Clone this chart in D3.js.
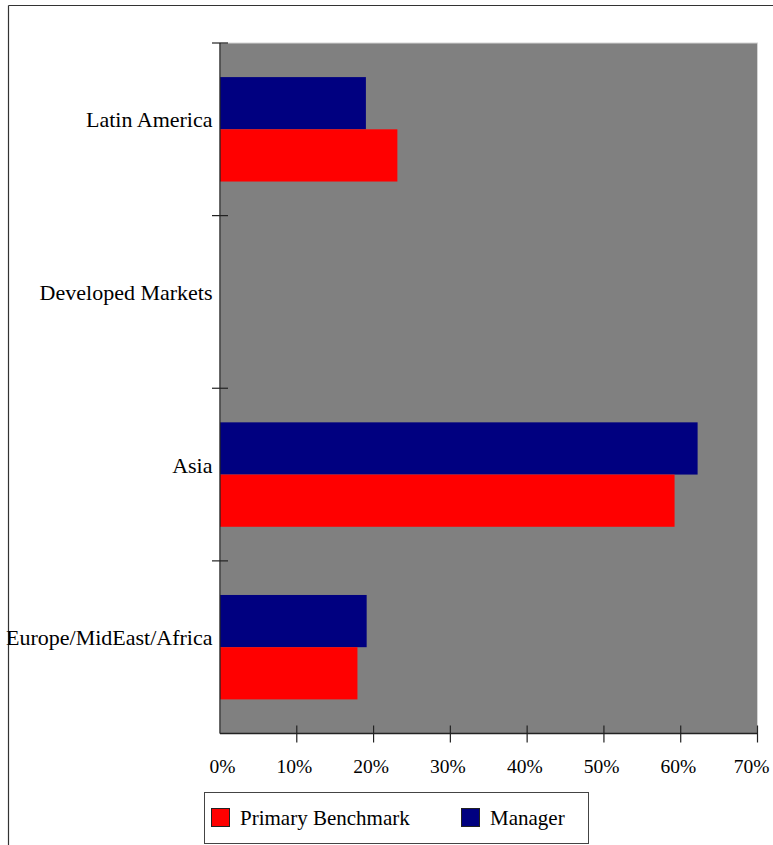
<!DOCTYPE html>
<html><head><meta charset="utf-8">
<script src="https://cdn.jsdelivr.net/npm/d3@7"></script>
<style>body{margin:0;background:#fff;} svg{display:block;}</style>
</head><body>
<svg id="c" width="773" height="845"></svg>
<script>
const categories = ["Latin America","Developed Markets","Asia","Europe/MidEast/Africa"];
const seriesNames = ["Manager","Primary Benchmark"];
const managerValues = [0.190, 0, 0.622, 0.191];
const benchmarkValues = [0.231, 0, 0.592, 0.179];
const tickValues = [0,0.1,0.2,0.3,0.4,0.5,0.6,0.7];
const colors = {"Manager":"#000080","Primary Benchmark":"#ff0000"};
const FONT = "'Liberation Serif', 'Times New Roman', Times, 'DejaVu Serif', serif";

const svg = d3.select("#c").style("font-family", FONT);
// outer frame
svg.append("line").attr("x1",8.5).attr("x2",773).attr("y1",5.5).attr("y2",5.5).attr("stroke","#333").attr("stroke-width",1.2);
svg.append("line").attr("x1",8.5).attr("x2",8.5).attr("y1",5.5).attr("y2",845).attr("stroke","#333").attr("stroke-width",1.2);

const L=220, R=757.5, T=43, B=733.5;
const x = d3.scaleLinear().domain([0,0.7]).range([L,R]);
const y = d3.scaleBand().domain(categories).range([T,B]).paddingInner(0.395).paddingOuter(0.1975);
const y1 = d3.scaleBand().domain(seriesNames).range([0,y.bandwidth()]);

svg.append("rect").attr("x",L).attr("y",T).attr("width",R-L).attr("height",B-T).attr("fill","#808080").attr("stroke","#d4d4d4").attr("stroke-width",1);

const data = categories.map((c,i)=>({cat:c, vals:[{s:"Manager",v:managerValues[i]},{s:"Primary Benchmark",v:benchmarkValues[i]}]}));
const g = svg.append("g");
data.forEach(d=>{
  d.vals.forEach(e=>{
    if(e.v<=0) return;
    g.append("rect").attr("x",x(0)).attr("y",y(d.cat)+y1(e.s)).attr("width",x(e.v)-x(0)).attr("height",y1.bandwidth()).attr("fill",colors[e.s]);
  });
});

function txt(sel,size){ return sel.attr("font-family",FONT).attr("font-size",size+"px").attr("fill","#000"); }

// y axis
const yb = d3.scaleLinear().domain([0,categories.length]).range([T,B]);
svg.append("line").attr("x1",L).attr("x2",L).attr("y1",T).attr("y2",B).attr("stroke","#222").attr("stroke-width",1.3);
d3.range(categories.length).forEach(i=>{
  svg.append("line").attr("x1",L-8).attr("x2",L+8).attr("y1",yb(i)).attr("y2",yb(i)).attr("stroke","#222").attr("stroke-width",1.2);
});
categories.forEach(c=>{
  txt(svg.append("text"),22).attr("x",L-7.5).attr("y",y(c)+y.bandwidth()/2-2).attr("text-anchor","end").text(c);
});
// x axis
svg.append("line").attr("x1",L).attr("x2",R).attr("y1",B).attr("y2",B).attr("stroke","#222").attr("stroke-width",1.3);
tickValues.forEach(t=>{
  if(t>0) svg.append("line").attr("x1",x(t)).attr("x2",x(t)).attr("y1",B-8).attr("y2",B+9).attr("stroke","#222").attr("stroke-width",1.2);
  txt(svg.append("text"),19.5).attr("x",Math.min(x(t)+15.5,769.5)).attr("y",772.5).attr("text-anchor","end").text(d3.format(".0%")(t));
});

// legend
const lg = svg.append("g");
lg.append("rect").attr("x",204.5).attr("y",792.5).attr("width",384).attr("height",51).attr("fill","#fff").attr("stroke","#444").attr("stroke-width",1);
const legendItems = [{s:"Primary Benchmark",x:211},{s:"Manager",x:461}];
legendItems.forEach(it=>{
  lg.append("rect").attr("x",it.x+0.5).attr("y",808.5).attr("width",18).attr("height",18).attr("fill",colors[it.s]).attr("stroke","#222").attr("stroke-width",1);
  txt(lg.append("text"),21).attr("x",it.x+29).attr("y",825).text(it.s);
});
</script>
</body></html>
